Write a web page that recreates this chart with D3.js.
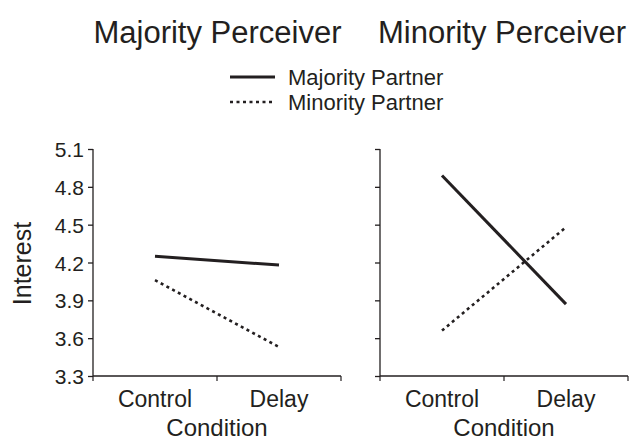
<!DOCTYPE html>
<html><head><meta charset="utf-8">
<script src="https://cdn.jsdelivr.net/npm/d3@7"></script>
<style>body{margin:0;background:#fff}text{font-family:"Liberation Sans",Arial,sans-serif;fill:#231f20}</style>
</head><body><svg id="c" width="632" height="441"></svg>
<script>
const panels = ["Majority Perceiver", "Minority Perceiver"];
const conditions = ["Control", "Delay"];
const series = ["Majority Partner", "Minority Partner"];
const majorityPerceiverMajPartner = [4.25, 4.18];
const majorityPerceiverMinPartner = [4.06, 3.53];
const minorityPerceiverMajPartner = [4.89, 3.87];
const minorityPerceiverMinPartner = [3.66, 4.48];
const yTicks = [3.3, 3.6, 3.9, 4.2, 4.5, 4.8, 5.1];

const data = [
  [majorityPerceiverMajPartner, majorityPerceiverMinPartner],
  [minorityPerceiverMajPartner, minorityPerceiverMinPartner]
];
const svg = d3.select("#c");
const col = "#231f20";
const plotTop = 149, plotBottom = 376;
const panelX = [[93, 341], [380, 628]];
const y = d3.scaleLinear().domain([3.3, 5.1]).range([plotBottom, plotTop]);
const dashes = [null, "3,3.5"];

panelX.forEach((px, i) => {
  const x = d3.scaleBand().domain(conditions).range(px);
  const g = svg.append("g");
  // y axis
  const ya = g.append("g").attr("transform", `translate(${px[0]},0)`)
    .call(d3.axisLeft(y).tickValues(yTicks).tickSize(5).tickFormat(i === 0 ? d3.format(".1f") : () => ""));
  ya.selectAll("text").style("font-size", "21px").attr("x", -9).attr("dy", "0.36em");
  ya.selectAll("path,line").attr("stroke", col).attr("stroke-width", 1.3);
  ya.select("path.domain").attr("d", `M0,${plotTop}V${plotBottom}`);
  // x axis with ticks at band edges
  const xa = g.append("g").attr("transform", `translate(0,${plotBottom})`);
  xa.append("line").attr("x1", px[0]).attr("x2", px[1]).attr("stroke", col).attr("stroke-width", 1.3);
  const edges = [px[0], (px[0] + px[1]) / 2, px[1]];
  xa.selectAll("line.t").data(edges).join("line").attr("class", "t")
    .attr("x1", d => d).attr("x2", d => d).attr("y1", 0).attr("y2", 5).attr("stroke", col).attr("stroke-width", 1.2);
  xa.selectAll("text.t").data(conditions).join("text").attr("class", "t")
    .attr("x", d => x(d) + x.bandwidth() / 2).attr("y", 31).attr("text-anchor", "middle")
    .style("font-size", "23px").text(d => d);
  g.append("text").attr("x", (px[0] + px[1]) / 2).attr("y", 436).attr("text-anchor", "middle")
    .style("font-size", "24px").text("Condition");
  // lines
  const line = d3.line().x((d, j) => x(conditions[j]) + x.bandwidth() / 2).y(d => y(d));
  data[i].forEach((vals, s) => {
    g.append("path").datum(vals).attr("d", line).attr("fill", "none").attr("stroke", col)
      .attr("stroke-width", s === 0 ? 3 : 2.6).attr("stroke-dasharray", dashes[s]);
  });
  // title
  svg.append("text").attr("x", i === 0 ? 217.5 : 502).attr("y", 43).attr("text-anchor", "middle")
    .style("font-size", "31px").text(panels[i]);
});

svg.append("text").attr("transform", `translate(31,${(plotTop + plotBottom) / 2 + 1}) rotate(-90)`)
  .attr("text-anchor", "middle").style("font-size", "25px").text("Interest");

// legend
series.forEach((s, k) => {
  const ly = 77 + k * 25;
  svg.append("line").attr("x1", 230).attr("x2", 275).attr("y1", ly).attr("y2", ly)
    .attr("stroke", col).attr("stroke-width", k === 0 ? 3 : 2.6).attr("stroke-dasharray", dashes[k]);
  svg.append("text").attr("x", 288).attr("y", ly + 8).style("font-size", "22px").text(s);
});
</script></body></html>
